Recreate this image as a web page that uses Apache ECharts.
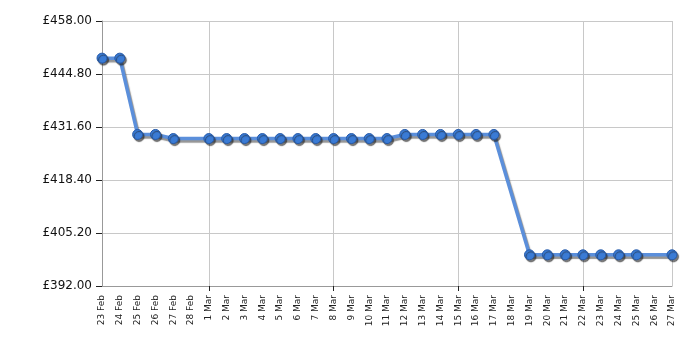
<!DOCTYPE html>
<html>
<head>
<meta charset="utf-8">
<script src="https://cdn.jsdelivr.net/npm/echarts@6/dist/echarts.min.js"></script>
<style>html,body{margin:0;padding:0;background:#fff;}#c{width:700px;height:350px;}</style>
</head>
<body>
<div id="c"></div>
<script>
const categories = ["23 Feb","24 Feb","25 Feb","26 Feb","27 Feb","28 Feb",
  "1 Mar","2 Mar","3 Mar","4 Mar","5 Mar","6 Mar","7 Mar","8 Mar","9 Mar","10 Mar",
  "11 Mar","12 Mar","13 Mar","14 Mar","15 Mar","16 Mar","17 Mar","18 Mar","19 Mar",
  "20 Mar","21 Mar","22 Mar","23 Mar","24 Mar","25 Mar","26 Mar","27 Mar"];
const prices = [448.75,448.75,429.74,429.74,428.72,null,
  428.72,428.72,428.72,428.72,428.72,428.72,428.72,428.72,428.72,428.72,
  428.72,429.74,429.74,429.74,429.74,429.74,429.74,null,399.77,
  399.77,399.77,399.77,399.77,399.77,399.77,null,399.77];
const yTicks = { min: 392, max: 458, interval: 13.2 };
const weekLines = [6, 13, 20, 27, 32];

const chart = echarts.init(document.getElementById('c'), null, {renderer: 'canvas'});
chart.setOption({
  animation: false,
  grid: { left: 102, right: 28, top: 21, bottom: 64 },
  xAxis: {
    type: 'category',
    data: categories,
    boundaryGap: false,
    axisLine: { lineStyle: { color: '#999', width: 1 } },
    axisTick: { show: true, length: 5, lineStyle: { color: '#222' },
      interval: (i) => weekLines.slice(0,4).includes(i) },
    axisLabel: { interval: 0, rotate: 90, fontSize: 9, color: '#222',
      fontFamily: 'DejaVu Sans', margin: 9 },
    splitLine: { show: true, lineStyle: { color: '#c8c8c8', width: 1 },
      interval: (i) => weekLines.includes(i) }
  },
  yAxis: {
    type: 'value',
    min: yTicks.min, max: yTicks.max, interval: yTicks.interval,
    axisLine: { show: true, lineStyle: { color: '#999', width: 1 } },
    axisTick: { show: true, length: 6, lineStyle: { color: '#222' } },
    axisLabel: { fontSize: 12, color: '#111', fontFamily: 'DejaVu Sans', margin: 10,
      formatter: (v) => '£' + v.toFixed(2) },
    splitLine: { show: true, lineStyle: { color: '#c8c8c8', width: 1 } }
  },
  series: [{
    type: 'line',
    data: prices,
    connectNulls: true,
    symbol: 'circle',
    symbolSize: 10,
    lineStyle: { color: '#5b8fdb', width: 3.5,
      shadowColor: 'rgba(60,60,60,0.55)', shadowOffsetX: 1.5, shadowOffsetY: 2.5, shadowBlur: 1 },
    itemStyle: { color: '#3a7bd5', borderColor: '#2559a8', borderWidth: 1,
      shadowColor: 'rgba(30,30,30,0.6)', shadowOffsetX: 1.5, shadowOffsetY: 2, shadowBlur: 1 }
  }]
});
</script>
</body>
</html>
